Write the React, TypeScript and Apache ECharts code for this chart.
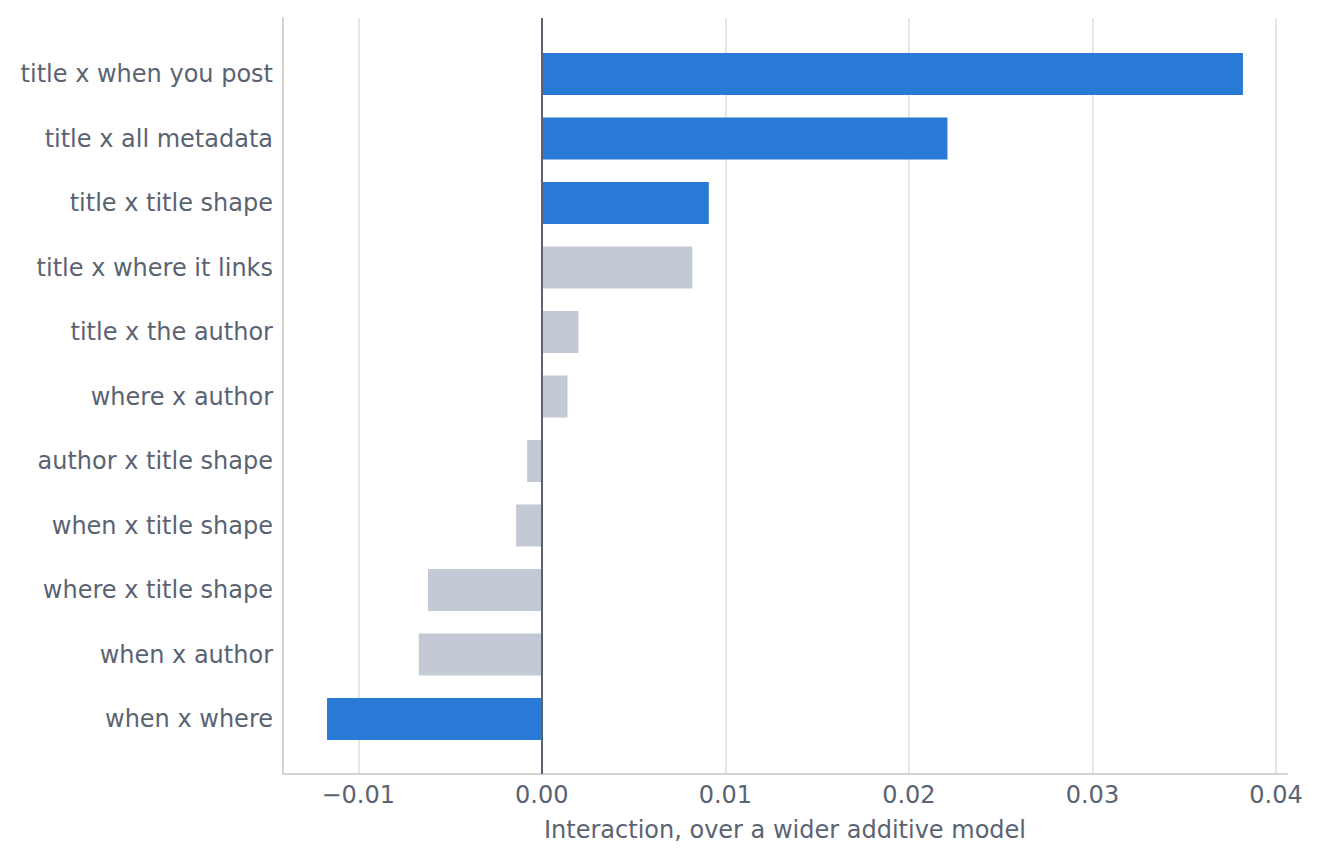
import React, { useEffect, useRef } from 'react';
import * as echarts from 'echarts';

// categories top to bottom
const categories = [
  'title x when you post',
  'title x all metadata',
  'title x title shape',
  'title x where it links',
  'title x the author',
  'where x author',
  'author x title shape',
  'when x title shape',
  'where x title shape',
  'when x author',
  'when x where',
];

const values = [0.0382, 0.0221, 0.0091, 0.0082, 0.002, 0.0014, -0.0008, -0.0014, -0.0062, -0.0067, -0.0117];

const highlighted = [
  'title x when you post',
  'title x all metadata',
  'title x title shape',
  'when x where',
];

const xTicks = [-0.01, 0, 0.01, 0.02, 0.03, 0.04];

const BLUE = '#2979d6';
const GREY = '#c4cad5';
const TEXT = '#5a6372';
const FONT = 'DejaVu Sans';

const fmt = (v: number) => (v < 0 ? '\u2212' : '') + Math.abs(v).toFixed(2);

const App: React.FC = () => {
  const chartRef = useRef<HTMLDivElement>(null);

  useEffect(() => {
    document.body.style.margin = '0';
    if (!chartRef.current) return;
    const chart = echarts.init(chartRef.current, undefined, { renderer: 'svg' });

    const xMin = -0.0141;
    const xMax = 0.0406;

    chart.setOption({
      animation: false,
      textStyle: { fontFamily: FONT },
      grid: [
        { left: 283, right: 36, top: 18, bottom: 88 },
        { left: 283, right: 36, top: 41.75, bottom: 110.75 },
      ],
      xAxis: [
        {
          gridIndex: 0,
          type: 'value',
          min: xMin,
          max: xMax,
          axisLine: { show: true, lineStyle: { color: '#d3d3cf', width: 2 } },
          axisTick: { show: false },
          splitLine: { show: false },
          axisLabel: {
            customValues: xTicks,
            formatter: fmt,
            color: TEXT,
            fontSize: 24,
            fontFamily: FONT,
            margin: 9,
          },
          name: 'Interaction, over a wider additive model',
          nameLocation: 'middle',
          nameGap: 44,
          nameTextStyle: { color: TEXT, fontSize: 24, fontFamily: FONT },
        },
        {
          gridIndex: 1,
          type: 'value',
          min: xMin,
          max: xMax,
          show: false,
        },
      ],
      yAxis: [
        {
          gridIndex: 0,
          type: 'value',
          min: 0,
          max: 1,
          axisLine: { show: true, onZero: false, lineStyle: { color: '#d3d3cf', width: 2 } },
          axisTick: { show: false },
          axisLabel: { show: false },
          splitLine: { show: false },
        },
        {
          gridIndex: 1,
          type: 'category',
          data: categories,
          inverse: true,
          axisLine: { show: false },
          axisTick: { show: false },
          axisLabel: { color: TEXT, fontSize: 24, fontFamily: FONT, margin: 10, padding: [4, 0, 0, 0] },
        },
      ],
      series: [
        {
          type: 'line',
          xAxisIndex: 0,
          yAxisIndex: 0,
          data: [],
          z: 0,
          markLine: {
            silent: true,
            z: 0,
            symbol: 'none',
            label: { show: false },
            lineStyle: { color: '#e6e6e2', width: 2, type: 'solid' },
            data: xTicks.filter((t) => t !== 0).map((t) => ({ xAxis: t })),
          },
        },
        {
          type: 'bar',
          xAxisIndex: 1,
          yAxisIndex: 1,
          barWidth: 42,
          z: 2,
          data: values.map((v, i) => ({
            value: v,
            itemStyle: { color: highlighted.includes(categories[i]) ? BLUE : GREY },
          })),
        },
        {
          type: 'line',
          xAxisIndex: 0,
          yAxisIndex: 0,
          data: [],
          z: 10,
          markLine: {
            silent: true,
            z: 10,
            symbol: 'none',
            label: { show: false },
            lineStyle: { color: '#596372', width: 2, type: 'solid' },
            data: [{ xAxis: 0 }],
          },
        },
      ],
    });

    return () => {
      chart.dispose();
    };
  }, []);

  return <div ref={chartRef} style={{ width: 1323, height: 862 }} />;
};

export default App;
